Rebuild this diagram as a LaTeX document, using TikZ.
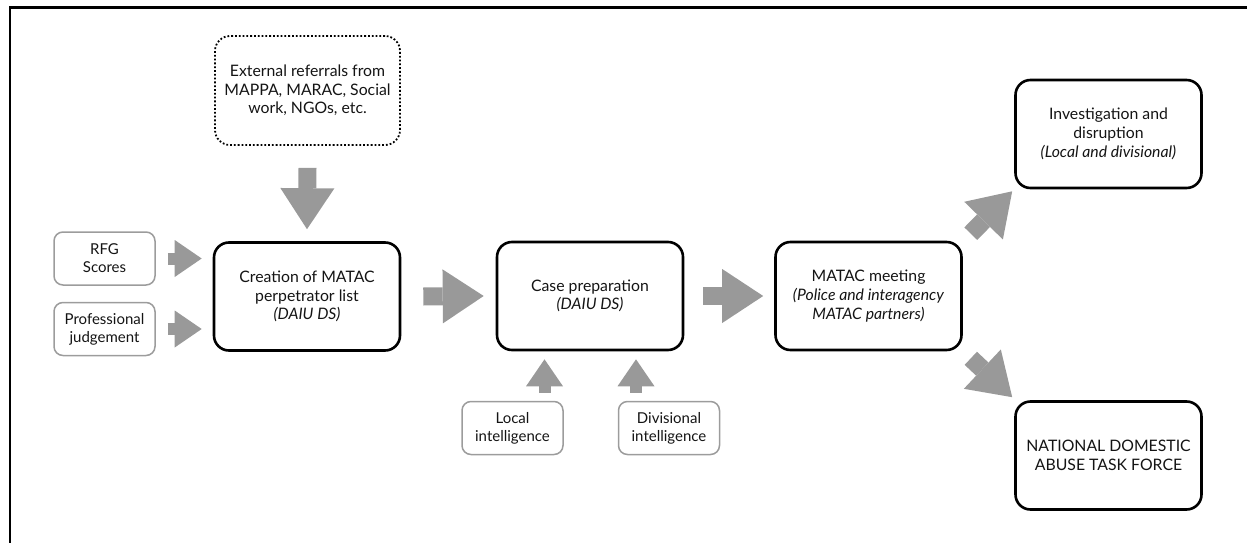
\documentclass[tikz,border=0pt]{standalone}
\usepackage{fontspec}
\setmainfont{Lato}
\usetikzlibrary{arrows.meta}
\definecolor{arrowgray}{HTML}{999999}
\definecolor{boxgray}{HTML}{9C9C9C}
\definecolor{ink}{HTML}{141414}
\tikzset{
  bigbox/.style={draw=black, line width=2.6pt, rounded corners=15pt, align=center,
    minimum width=186pt, minimum height=108pt, inner sep=2pt,
    font=\fontsize{15.8}{18.7}\selectfont, text=ink},
  srcbox/.style={draw=black, dotted, line width=1.8pt, rounded corners=15pt, align=center,
    minimum width=185pt, minimum height=109pt, inner sep=2pt,
    font=\fontsize{15.8}{18.7}\selectfont, text=ink},
  smallbox/.style={draw=boxgray, line width=1.5pt, rounded corners=9pt, align=center,
    minimum width=101pt, minimum height=53pt, inner sep=2pt,
    font=\fontsize{15}{18}\selectfont, text=ink},
  fatarrow/.style={draw=arrowgray, line width=18pt,
    -{Triangle[length=41pt,width=54pt,line width=0pt,fill=arrowgray]}},
  thinarrow/.style={draw=arrowgray, line width=12pt,
    -{Triangle[length=27pt,width=37pt,line width=0pt,fill=arrowgray]}},
}
\begin{document}
\begin{tikzpicture}[x=1pt,y=-1pt]
  \useasboundingbox (0,0) rectangle (1247,543);
  % page frame (top and left rules)
  \draw[line width=2.2pt] (10,543) -- (10,7.5) -- (1247,7.5);

  % boxes
  \node[srcbox]   (ext)   at (307.5,90.5)  {External referrals from\\MAPPA, MARAC, Social\\work, NGOs, etc.};
  \node[smallbox] (rfg)   at (104.5,258.5) {RFG\\Scores};
  \node[smallbox] (prof)  at (104.5,329)   {Professional\\judgement};
  \node[bigbox]   (crea)  at (307,296.5)   {Creation of MATAC\\perpetrator list\\\textit{(DAIU DS)}};
  \node[bigbox]   (case)  at (590,296)     {Case preparation\\\textit{(DAIU DS)}};
  \node[smallbox] (local) at (512.5,428)   {Local\\intelligence};
  \node[smallbox] (div)   at (669,428)     {Divisional\\intelligence};
  \node[bigbox]   (matac) at (868.5,296)   {MATAC meeting\\\textit{(Police and interagency}\\\textit{MATAC partners)}};
  \node[bigbox]   (inv)   at (1108.5,134)  {Investigation and\\disruption\\\textit{(Local and divisional)}};
  \node[bigbox]   (natl)  at (1108.5,455.5){NATIONAL DOMESTIC\\ABUSE TASK FORCE};

  % block arrows
  \draw[fatarrow] ([yshift=-22pt]ext.south) -- ([yshift=12pt]crea.north);
  \draw[thinarrow] ([xshift=12pt]rfg.east) -- ([xshift=-11pt]rfg.east -| crea.west);
  \draw[thinarrow] ([xshift=12pt]prof.east) -- ([xshift=-11pt]prof.east -| crea.west);
  \draw[fatarrow] ([xshift=22pt]crea.east) -- ([xshift=-12pt]case.west);
  \draw[fatarrow] ([xshift=19pt]case.east) -- ([xshift=-11pt]matac.west);
  \draw[thinarrow] ([xshift=32pt,yshift=8pt]local.north) -- ([xshift=32pt,yshift=-8pt]local.north |- case.south);
  \draw[thinarrow] ([xshift=-33pt,yshift=8pt]div.north) -- ([xshift=-33pt,yshift=-8pt]div.north |- case.south);
  \draw[fatarrow] ([shift={(8pt,7pt)}]matac.north east) -- ([shift={(-2pt,-2pt)}]inv.south west);
  \draw[fatarrow] ([shift={(8pt,-7pt)}]matac.south east) -- ([shift={(-2pt,3pt)}]natl.north west);
\end{tikzpicture}
\end{document}
